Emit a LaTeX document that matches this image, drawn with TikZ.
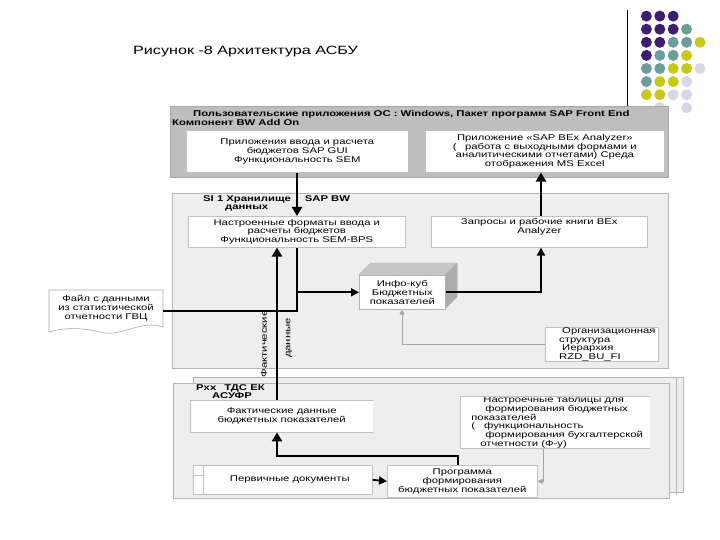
\documentclass[tikz,border=0pt]{standalone}
\usepackage{fontspec}
\setmainfont{Liberation Sans}[FakeStretch=1.35]
\usetikzlibrary{arrows.meta}
\definecolor{pnlA}{HTML}{BEBEBE}
\definecolor{pnlAedge}{HTML}{A8A8A8}
\definecolor{pnlB}{HTML}{EEEEEE}
\definecolor{pnlBedge}{HTML}{B4B4B4}
\definecolor{boxedge}{HTML}{C0C0C0}
\definecolor{dP}{HTML}{3C1D6E}
\definecolor{dT}{HTML}{6A9E9E}
\definecolor{dY}{HTML}{C9C81A}
\definecolor{dL}{HTML}{D7D7E8}
\tikzset{
  txt/.style={font=\fontsize{8.4}{8.9}\selectfont, align=center, inner sep=0pt},
  ttl/.style={font=\fontsize{8.4}{8.9}\selectfont\bfseries, align=left, inner sep=0pt},
  wbox/.style={draw=boxedge, fill=white, line width=0.6bp, txt},
  obox/.style={fill=white, txt},
  panelA/.style={draw=pnlAedge, fill=pnlA, line width=1.2bp, inner sep=0pt},
  panelB/.style={draw=pnlBedge, fill=pnlB, line width=0.8bp, inner sep=0pt},
  bigarrow/.style={line width=2.8bp, -{Triangle[length=9bp,width=10bp]}},
  midarrow/.style={line width=1.8bp, -{Triangle[length=8bp,width=8bp]}},
  midline/.style={line width=1.8bp},
  thinarrow/.style={draw=gray!70, line width=0.8bp, -{Triangle[length=5bp,width=5bp]}}
}
\begin{document}
\begin{tikzpicture}[x=1bp,y=-1bp]
\useasboundingbox (0,0) rectangle (720,540);
\fill[white] (0,0) rectangle (720,540);

% decoration
\draw[line width=0.9bp] (627,10) -- (627,106);
\foreach \c/\r/\col in {1/1/dP,2/1/dP,3/1/dP,
  1/2/dP,2/2/dP,3/2/dP,4/2/dT,
  1/3/dP,2/3/dP,3/3/dT,4/3/dT,5/3/dY,
  1/4/dP,2/4/dT,3/4/dT,4/4/dY,
  1/5/dT,2/5/dT,3/5/dY,4/5/dY,5/5/dL,
  1/6/dT,2/6/dY,3/6/dY,4/6/dL,
  1/7/dY,2/7/dY,3/7/dL,4/7/dL,
  2/8/dL,4/8/dL}
  \fill[\col] ({633+13.4*\c},{3+13.1*\r}) circle (5.5bp);

% title
\node[anchor=base west, font=\fontsize{12}{14}\selectfont, inner sep=0pt] (title) at (133,55) {Рисунок -8 Архитектура АСБУ};

% ---- top panel
\node[panelA, minimum width=498bp, minimum height=71bp, anchor=north west] (ptop) at (170,106) {};
\node[ttl, anchor=north west] (ptoptitle) at (172,110.5) {\hspace*{21bp}Пользовательские приложения ОС : Windows, Пакет программ SAP Front End\\Компонент BW Add On};
\node[wbox, minimum width=222bp, minimum height=42bp, anchor=north west] (app1) at (186,130) {Приложения ввода и расчета\\бюджетов SAP GUI\\Функциональность SEM};
\node[wbox, minimum width=239bp, minimum height=42bp, anchor=north west] (app2) at (425,130) {Приложение «SAP BEx Analyzer»\\(\quad работа с выходными формами и\\аналитическими отчетами) Среда\\отображения MS Excel};

% ---- middle panel
\node[panelB, minimum width=496bp, minimum height=175bp, anchor=north west] (pmid) at (172,193) {};
\node[ttl, anchor=north west] (pmidtitle) at (203,195) {SI 1 Хранилище\hspace{14bp}SAP BW\\\hspace*{22bp}данных};
\node[wbox, minimum width=217bp, minimum height=31bp, anchor=north west] (fmt) at (188,216) {Настроенные форматы ввода и\\расчеты бюджетов\\Функциональность SEM-BPS};
\node[wbox, minimum width=216bp, minimum height=31bp, anchor=north west] (qry) at (431,216) {Запросы и рабочие книги BEx\\Analyzer\\[3bp]};
% cube
\fill[fill=gray!45] (359,275) -- (371,263) -- (457,263) -- (445,275) -- cycle;
\fill[fill=gray!65] (445,275) -- (457,263) -- (457,297) -- (445,309) -- cycle;
\draw[gray!60, line width=0.5bp] (359,275) -- (371,263) -- (457,263) -- (457,297) -- (445,309);
\draw[gray!60, line width=0.5bp] (445,275) -- (457,263);
\node[wbox, draw=gray!60, minimum width=86bp, minimum height=34bp, anchor=north west] (cube) at (359,275) {Инфо-куб\\Бюджетных\\показателей};
\node[wbox, minimum width=113bp, minimum height=31bp, anchor=north west, align=left] (org) at (545,327) {\hspace*{14bp}Организационная\\\hspace*{11bp}структура\\\hspace*{14bp}Иерархия\\\hspace*{11bp}RZD\_BU\_FI};

% file document
\draw[draw=gray!70, fill=white, line width=0.6bp] (49,290) -- (163,290) -- (163,327)
   .. controls (140,319) and (122,338) .. (100,332)
   .. controls (80,327) and (62,328) .. (49,332) -- cycle;
\node[txt, anchor=north] (file) at (106,295) {Файл с данными\\из статистической\\отчетности ГВЦ};
\coordinate (fileout) at (163,311);

% ---- bottom panel
\draw[draw=pnlBedge, fill=pnlB, line width=0.6bp] (193,377) rectangle (683,492);
\draw[draw=pnlBedge, line width=0.6bp] (676,377) -- (676,495);
\node[panelB, minimum width=496bp, minimum height=115bp, anchor=north west] (pbot) at (173,383) {};
\node[ttl, anchor=north west] (pbottitle) at (196,384) {Pxx\hspace{8bp}ТДС ЕК\\\hspace*{16bp}АСУФР};
\node[obox, minimum width=183bp, minimum height=32bp, anchor=north west] (fact) at (190,400) {Фактические данные\\бюджетных показателей};
\draw[boxedge, line width=0.6bp] (fact.north east) -- (fact.north west) -- (fact.south west) -- (fact.south east);
\node[obox, minimum width=190bp, minimum height=47bp, anchor=north west, align=left] (tab) at (460,396) {\hspace*{16bp}Настроечные таблицы для\\\hspace*{18bp}формирования бюджетных\\\hspace*{4bp}показателей\\\hspace*{4bp}(\hspace{9bp}функциональность\\\hspace*{18bp}формирования бухгалтерской\\\hspace*{13bp}отчетности (Ф-у)};
\draw[boxedge, line width=0.6bp] (tab.north east) -- (tab.north west) -- (tab.south west) -- (tab.south east);
\node[wbox, minimum width=179bp, minimum height=29bp, anchor=north west] (prim) at (193,465) {\hspace*{14bp}Первичные документы};
\draw[boxedge, line width=0.6bp] (203,465) -- (203,494);
\draw[boxedge, line width=0.6bp] (193,475) -- (203,475);
\node[wbox, minimum width=150bp, minimum height=32bp, anchor=north west] (prog) at (387,465) {Программа\\формирования\\бюджетных показателей};

% ---- connectors
\coordinate (xL) at (297,0);
\coordinate (xF) at (277,0);
\coordinate (xR) at (541,0);
\coordinate (xC) at (402,0);
\coordinate (xP) at (458,0);
\coordinate (xT) at (543,0);
\coordinate (yK) at (0,456);

\draw[bigarrow] (app1.south -| xL) -- (fmt.north -| xL);
\draw[bigarrow] (qry.north -| xR) -- (app2.south -| xR);
\draw[midline] (fmt.south -| xL) -- (fileout -| xL) -- (fileout);
\draw[midarrow] (cube.west -| xL) -- (cube.west);
\draw[midarrow] (cube.east) -| (qry.south -| xR);
\draw[bigarrow] (fact.north -| xF) -- (fmt.south -| xF);
\draw[thinarrow] (org.west) -| (cube.south -| xC);
\draw[midarrow] (prim.east) -- (prog.west);
\draw[bigarrow] (prog.north -| xP) -- (xP |- yK) -| (fact.south -| xF);
\draw[thinarrow] (tab.south -| xT) |- (prog.east);

\node[txt, rotate=90] (lblfact) at (264,344) {Фактические};
\node[txt, rotate=90] (lbldata) at (289,338) {данные};
\end{tikzpicture}
\end{document}
